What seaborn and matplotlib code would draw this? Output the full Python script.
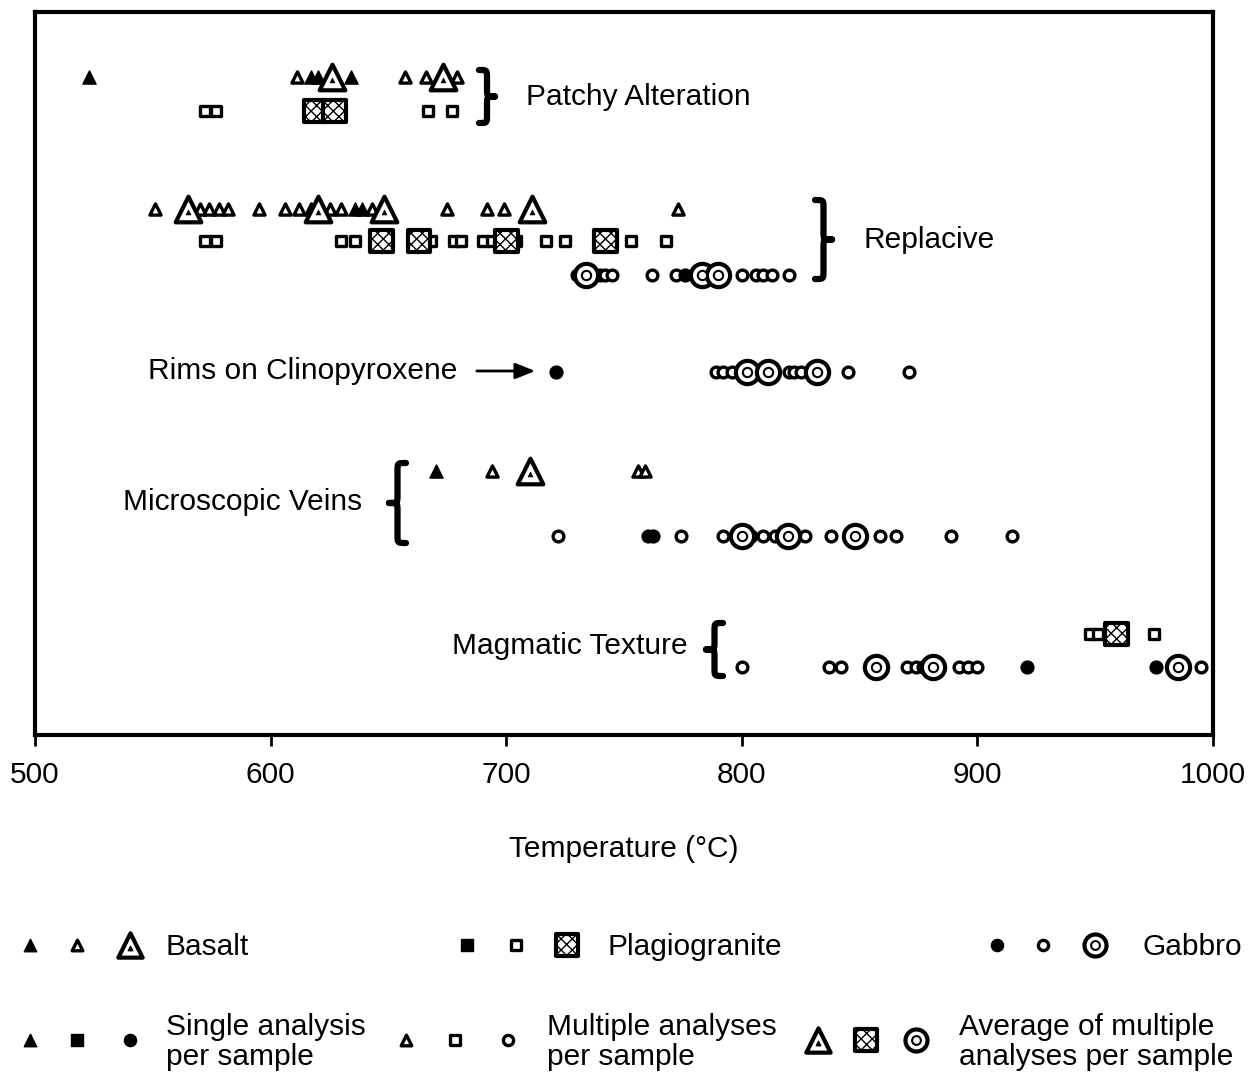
import numpy as np
import pandas as pd
import matplotlib
matplotlib.use("Agg")
import matplotlib.pyplot as plt
import seaborn as sns
from matplotlib.path import Path
from matplotlib.patches import PathPatch

sns.set_theme(style="white")
plt.rcParams['font.family'] = ['Liberation Sans', 'DejaVu Sans']
plt.rcParams['hatch.linewidth'] = 1.0

# ---------------- data (temperature, degC) ----------------
patchy_basalt_single = [523, 617, 620, 634]
patchy_basalt_multi = [611, 657, 666, 679]
patchy_basalt_avg = [626, 673]
patchy_plag_multi = [572, 577, 667, 677]
patchy_plag_avg = [619, 627]

rep_basalt_single = [636, 639]
rep_basalt_multi = [551, 570, 574, 578, 582, 595, 606, 612, 617, 625, 630, 643, 675, 692, 699, 773]
rep_basalt_avg = [565, 620, 648, 711]
rep_plag_multi = [572, 577, 630, 636, 668, 678, 681, 690, 694, 704, 717, 725, 753, 768]
rep_plag_avg = [647, 663, 700, 742]
rep_gabbro_single = [776]
rep_gabbro_multi = [730, 740, 742, 745, 762, 772, 800, 806, 809, 813, 820]
rep_gabbro_avg = [734, 783, 790]

rims_gabbro_single = [721]
rims_gabbro_multi = [789, 792, 796, 820, 822, 825, 845, 871]
rims_gabbro_avg = [802, 811, 832]

veins_basalt_single = [670]
veins_basalt_multi = [694, 756, 759]
veins_basalt_avg = [710]
veins_gabbro_single = [760, 762.5]
veins_gabbro_multi = [722, 774, 792, 804, 809, 814, 827, 838, 858.5, 865.6, 889, 914.5]
veins_gabbro_avg = [800, 819.5, 848]

magm_plag_multi = [948, 951, 975]
magm_plag_avg = [959]
magm_gabbro_single = [921, 976]
magm_gabbro_multi = [800, 837, 842, 870, 874, 877, 892, 896, 900, 995]
magm_gabbro_avg = [857, 881, 985]

x_ticks = [500, 600, 700, 800, 900, 1000]
section_labels = ["Patchy Alteration", "Replacive", "Rims on Clinopyroxene",
                  "Microscopic Veins", "Magmatic Texture"]

groups = [
    ("patchy", "Basalt", "single", patchy_basalt_single),
    ("patchy", "Basalt", "multi", patchy_basalt_multi),
    ("patchy", "Basalt", "avg", patchy_basalt_avg),
    ("patchy", "Plagiogranite", "multi", patchy_plag_multi),
    ("patchy", "Plagiogranite", "avg", patchy_plag_avg),
    ("replacive", "Basalt", "single", rep_basalt_single),
    ("replacive", "Basalt", "multi", rep_basalt_multi),
    ("replacive", "Basalt", "avg", rep_basalt_avg),
    ("replacive", "Plagiogranite", "multi", rep_plag_multi),
    ("replacive", "Plagiogranite", "avg", rep_plag_avg),
    ("replacive", "Gabbro", "single", rep_gabbro_single),
    ("replacive", "Gabbro", "multi", rep_gabbro_multi),
    ("replacive", "Gabbro", "avg", rep_gabbro_avg),
    ("rims", "Gabbro", "single", rims_gabbro_single),
    ("rims", "Gabbro", "multi", rims_gabbro_multi),
    ("rims", "Gabbro", "avg", rims_gabbro_avg),
    ("veins", "Basalt", "single", veins_basalt_single),
    ("veins", "Basalt", "multi", veins_basalt_multi),
    ("veins", "Basalt", "avg", veins_basalt_avg),
    ("veins", "Gabbro", "single", veins_gabbro_single),
    ("veins", "Gabbro", "multi", veins_gabbro_multi),
    ("veins", "Gabbro", "avg", veins_gabbro_avg),
    ("magmatic", "Plagiogranite", "multi", magm_plag_multi),
    ("magmatic", "Plagiogranite", "avg", magm_plag_avg),
    ("magmatic", "Gabbro", "single", magm_gabbro_single),
    ("magmatic", "Gabbro", "multi", magm_gabbro_multi),
    ("magmatic", "Gabbro", "avg", magm_gabbro_avg),
]
rows = []
for sec, rock, kind, vals in groups:
    for v in vals:
        rows.append({"section": sec, "rock": rock, "kind": kind, "temp": v})
df = pd.DataFrame(rows)

# ---------------- layout (lane positions, pixel-like units) ----------------
lane = {
    ("patchy", "Basalt"): 77, ("patchy", "Plagiogranite"): 111,
    ("replacive", "Basalt"): 209, ("replacive", "Plagiogranite"): 241,
    ("replacive", "Gabbro"): 275,
    ("rims", "Gabbro"): 372,
    ("veins", "Basalt"): 471, ("veins", "Gabbro"): 536,
    ("magmatic", "Plagiogranite"): 634, ("magmatic", "Gabbro"): 667,
}
df["lane"] = [lane[(s, r)] for s, r in zip(df["section"], df["rock"])]

marker_of = {"Basalt": "^", "Plagiogranite": "s", "Gabbro": "o"}
style_of = {
    "single": dict(color="black", edgecolor="black", linewidth=1.0),
    "multi": dict(color="white", edgecolor="black", linewidth=2.4),
    "avg": dict(color="white", edgecolor="black", linewidth=3.0),
}
size_of = {
    ("Basalt", "single"): 90, ("Basalt", "multi"): 65, ("Basalt", "avg"): 340,
    ("Plagiogranite", "single"): 75, ("Plagiogranite", "multi"): 60, ("Plagiogranite", "avg"): 270,
    ("Gabbro", "single"): 85, ("Gabbro", "multi"): 60, ("Gabbro", "avg"): 280,
}

W, H = 1248, 1072
FS = 21.5
fig = plt.figure(figsize=(W / 100, H / 100), dpi=100)
ax_l, ax_r, ax_t, ax_b = 35, 1213, 12, 735
ax = fig.add_axes([ax_l / W, 1 - ax_b / H, (ax_r - ax_l) / W, (ax_b - ax_t) / H])

order = ["multi", "single", "avg"]
for kind in order:
    for rock in ["Basalt", "Plagiogranite", "Gabbro"]:
        sub = df[(df["rock"] == rock) & (df["kind"] == kind)]
        if sub.empty:
            continue
        kw = dict(style_of[kind])
        if kind == "avg" and rock == "Plagiogranite":
            kw["hatch"] = "xxx"
        sns.scatterplot(data=sub, x="temp", y="lane", marker=marker_of[rock],
                        s=size_of[(rock, kind)], ax=ax, legend=False, zorder=3, **kw)
        if kind == "avg" and rock == "Gabbro":
            sns.scatterplot(data=sub, x="temp", y="lane", marker="o", s=45,
                            color="white", edgecolor="black", linewidth=1.5,
                            ax=ax, legend=False, zorder=4)
        if kind == "avg" and rock == "Basalt":
            sns.scatterplot(data=sub.assign(lane=sub["lane"] + 3), x="temp", y="lane",
                            marker="^", s=12, color="black", edgecolor="black",
                            linewidth=0.5, ax=ax, legend=False, zorder=4)

ax.set_xlim(500, 1000)
ax.set_ylim(ax_b, ax_t)
ax.set_yticks([])
ax.set_xticks(x_ticks)
ax.set_xticklabels([str(t) for t in x_ticks], fontsize=FS)
ax.tick_params(axis="x", direction="out", length=8, width=2, pad=11, colors="black")
ax.xaxis.set_ticks_position("bottom")
for sp in ax.spines.values():
    sp.set_linewidth(3)
    sp.set_color("black")
ax.set_ylabel("")
ax.set_xlabel("Temperature (°C)", fontsize=FS, color="black")
ax.xaxis.set_label_coords(0.5, -0.139)
ax.xaxis.label.set_va("top")


def px2t(px):
    return 500 + (px - ax_l) * 500 / (ax_r - ax_l)


def brace(x_base, y_top, y_bot, width, lw=4.5):
    # width > 0 : '}' pointing right ; width < 0 : '{' pointing left
    ym = (y_top + y_bot) / 2
    xh = x_base + width / 2
    xt = x_base + width
    q = min(8, (y_bot - y_top) * 0.15)
    verts = [(x_base, y_top), (xh, y_top), (xh, y_top), (xh, y_top + q),
             (xh, ym - q),
             (xh, ym), (xh, ym), (xt, ym),
             (xh, ym), (xh, ym), (xh, ym + q),
             (xh, y_bot - q),
             (xh, y_bot), (xh, y_bot), (x_base, y_bot)]
    codes = [Path.MOVETO, Path.CURVE4, Path.CURVE4, Path.CURVE4,
             Path.LINETO,
             Path.CURVE4, Path.CURVE4, Path.CURVE4,
             Path.CURVE4, Path.CURVE4, Path.CURVE4,
             Path.LINETO,
             Path.CURVE4, Path.CURVE4, Path.CURVE4]
    ax.add_patch(PathPatch(Path(verts, codes), fill=False, lw=lw,
                           edgecolor="black", capstyle="round",
                           joinstyle="round", zorder=5))


brace(px2t(479), 70, 123, px2t(495) - px2t(479))
brace(px2t(815), 200, 279, px2t(832) - px2t(815))
brace(px2t(406), 463, 543, px2t(389) - px2t(406))
brace(px2t(723), 623, 676, px2t(706) - px2t(723))

tkw = dict(fontsize=FS, color="black", va="center", ha="left")
ax.text(px2t(526), 97, section_labels[0], **tkw)
ax.text(px2t(863), 240, section_labels[1], **tkw)
ax.text(px2t(148), 371, section_labels[2], **tkw)
ax.text(px2t(123), 502, section_labels[3], **tkw)
ax.text(px2t(452), 646, section_labels[4], **tkw)
ax.annotate("", xy=(px2t(538), 371), xytext=(px2t(474), 371),
            arrowprops=dict(arrowstyle="-|>,head_length=1.0,head_width=0.4",
                            color="black", lw=2))

# ---------------- legend (pixel coordinates) ----------------
lg = fig.add_axes([0, 0, 1, 1], zorder=-1)
lg.set_xlim(0, W)
lg.set_ylim(H, 0)
lg.axis("off")


def key(x, y, rock, kind):
    kw = dict(style_of[kind])
    c = kw.pop("color")
    if kind == "avg" and rock == "Plagiogranite":
        kw["hatch"] = "xxx"
    lg.scatter([x], [y], marker=marker_of[rock], s=size_of[(rock, kind)] * 0.9,
               c=c, **kw)
    if kind == "avg" and rock == "Gabbro":
        lg.scatter([x], [y], marker="o", s=40, c="white", edgecolor="black", linewidth=1.5)
    if kind == "avg" and rock == "Basalt":
        lg.scatter([x], [y + 3], marker="^", s=10, c="black")


y1, y2 = 945, 1040
for x, rock, kind in [(30, "Basalt", "single"), (77, "Basalt", "multi"), (130, "Basalt", "avg"),
                      (467, "Plagiogranite", "single"), (516, "Plagiogranite", "multi"),
                      (567, "Plagiogranite", "avg"),
                      (997, "Gabbro", "single"), (1043, "Gabbro", "multi"), (1095, "Gabbro", "avg")]:
    key(x, y1, rock, kind)
for x, rock, kind in [(30, "Basalt", "single"), (77, "Plagiogranite", "single"), (130, "Gabbro", "single"),
                      (406, "Basalt", "multi"), (455, "Plagiogranite", "multi"), (508, "Gabbro", "multi"),
                      (818, "Basalt", "avg"), (866, "Plagiogranite", "avg"), (916, "Gabbro", "avg")]:
    key(x, y2, rock, kind)

lkw = dict(fontsize=FS, color="black", va="center", ha="left", linespacing=1.1)
lg.text(166, y1 + 2, "Basalt", **lkw)
lg.text(607, y1 + 2, "Plagiogranite", **lkw)
lg.text(1142, y1 + 2, "Gabbro", **lkw)
lg.text(166, y2 + 2, "Single analysis\nper sample", **lkw)
lg.text(547, y2 + 2, "Multiple analyses\nper sample", **lkw)
lg.text(959, y2 + 2, "Average of multiple\nanalyses per sample", **lkw)

fig.savefig("out.png", dpi=100, facecolor="white")
